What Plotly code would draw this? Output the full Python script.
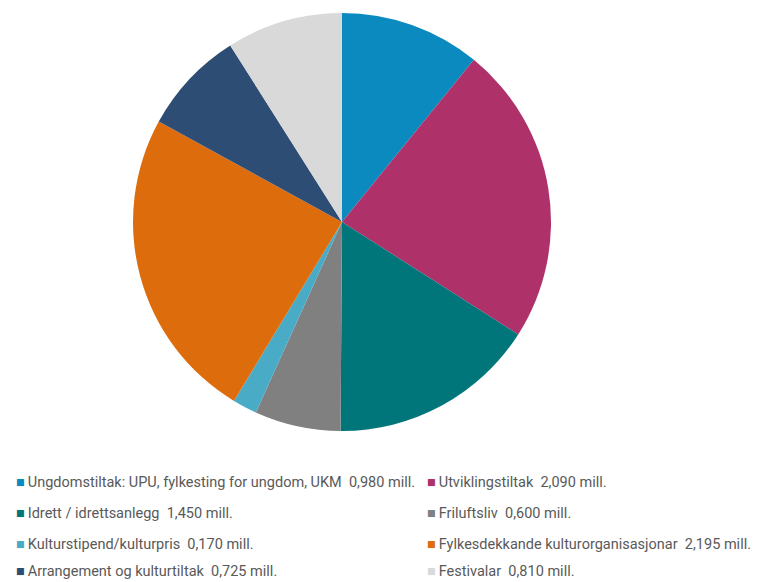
import plotly.graph_objects as go

names = ["Ungdomstiltak: UPU, fylkesting for ungdom, UKM", "Utviklingstiltak",
         "Idrett / idrettsanlegg", "Friluftsliv", "Kulturstipend/kulturpris",
         "Fylkesdekkande kulturorganisasjonar", "Arrangement og kulturtiltak", "Festivalar"]
values = [0.980, 2.090, 1.450, 0.600, 0.170, 2.195, 0.725, 0.810]
colors = ["#0A8ABF", "#AE3169", "#00767A", "#808080", "#4AABC7", "#DD6D0C", "#2E4D74", "#D9D9D9"]

W, H = 758, 582
cx, cy, r = 342, 222, 209

def fmt(v):
    return f"{v:.3f}".replace(".", ",")

labels = [f"{n}\u00a0\u00a0{fmt(v)} mill." for n, v in zip(names, values)]

fig = go.Figure(go.Pie(
    labels=labels, values=values, sort=False, direction="clockwise",
    marker=dict(colors=colors, line=dict(width=0)),
    textinfo="none", hoverinfo="label+value", showlegend=False,
    domain=dict(x=[(cx - r) / W, (cx + r) / W], y=[1 - (cy + r) / H, 1 - (cy - r) / H]),
))

col_x = [14, 425]
row_y = [482, 513, 544, 571]
anns = []
for i, (lab, c) in enumerate(zip(labels, colors)):
    col = i % 2
    row = i // 2
    x = col_x[col]
    y = row_y[row]
    anns.append(dict(x=x / W, y=1 - y / H, xref="paper", yref="paper", xanchor="left", yanchor="middle",
                     showarrow=False, text=f"<span style='color:{c}'>■</span>\u2009{lab}",
                     font=dict(family="Roboto", size=14.5, color="#595959")))

fig.update_layout(width=W, height=H, margin=dict(l=0, r=0, t=0, b=0),
                  paper_bgcolor="white", plot_bgcolor="white", annotations=anns)
fig.write_html("out.html", post_script="document.body.style.margin='0';",
               config={"displayModeBar": False})
